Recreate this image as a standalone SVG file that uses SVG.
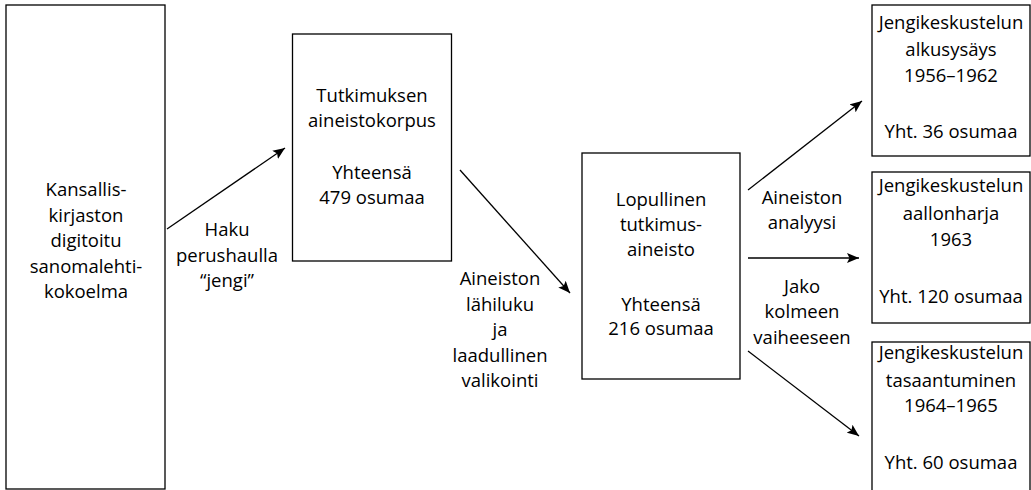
<svg xmlns="http://www.w3.org/2000/svg" width="1031" height="490" viewBox="0 0 1031 490">
<defs>
<marker id="ah" viewBox="0 0 12 10" refX="12" refY="5" markerWidth="12" markerHeight="10" markerUnits="userSpaceOnUse" orient="auto"><path d="M0,0 L12,5 L0,10 L2.5,5 z" fill="#000"/></marker>
<style>
.box{fill:#fff;stroke:#000;stroke-width:1.3}
text{font-family:"Open Sans","Liberation Sans",sans-serif;font-size:18.5px;fill:#000;text-anchor:middle}
.c{stroke:#000;stroke-width:1.3;fill:none;marker-end:url(#ah)}
</style>
</defs>
<rect width="1031" height="490" fill="#fff"/>
<g id="connectors">
<line class="c" x1="167" y1="229" x2="285" y2="148"/>
<line class="c" x1="460" y1="170" x2="570" y2="293"/>
<line class="c" x1="748" y1="190" x2="862" y2="101"/>
<line class="c" x1="748" y1="258" x2="859" y2="258"/>
<line class="c" x1="748" y1="351" x2="859" y2="436"/>
</g>
<g id="labels">
<text x="227" y="236">Haku</text>
<text x="227" y="262">perushaulla</text>
<text x="227" y="287">“jengi”</text>
<text x="500" y="285">Aineiston</text>
<text x="500" y="311">lähiluku</text>
<text x="500" y="336">ja</text>
<text x="500" y="362">laadullinen</text>
<text x="500" y="387">valikointi</text>
<text x="802" y="204">Aineiston</text>
<text x="802" y="229">analyysi</text>
<text x="802" y="293">Jako</text>
<text x="802" y="318">kolmeen</text>
<text x="802" y="344">vaiheeseen</text>
</g>
<g id="n1">
<rect class="box" x="6" y="5" width="159" height="484"/>
<text x="86" y="196">Kansallis-</text>
<text x="86" y="222">kirjaston</text>
<text x="86" y="247">digitoitu</text>
<text x="86" y="273">sanomalehti-</text>
<text x="86" y="298">kokoelma</text>
</g>
<g id="n2">
<rect class="box" x="292.5" y="34" width="159" height="227"/>
<text x="372" y="102">Tutkimuksen</text>
<text x="372" y="127">aineistokorpus</text>
<text x="372" y="179">Yhteensä</text>
<text x="372" y="204">479 osumaa</text>
</g>
<g id="n3">
<rect class="box" x="582" y="153" width="158" height="226"/>
<text x="661" y="206">Lopullinen</text>
<text x="661" y="231">tutkimus-</text>
<text x="661" y="256">aineisto</text>
<text x="661" y="311">Yhteensä</text>
<text x="661" y="335">216 osumaa</text>
</g>
<g id="n4">
<rect class="box" x="872" y="5" width="158" height="151"/>
<text x="951" y="29">Jengikeskustelun</text>
<text x="951" y="56">alkusysäys</text>
<text x="951" y="82">1956–1962</text>
<text x="951" y="138">Yht. 36 osumaa</text>
</g>
<g id="n5">
<rect class="box" x="872" y="172" width="158" height="151"/>
<text x="951" y="192">Jengikeskustelun</text>
<text x="951" y="220">aallonharja</text>
<text x="951" y="246">1963</text>
<text x="951" y="303">Yht. 120 osumaa</text>
</g>
<g id="n6">
<rect class="box" x="872" y="342" width="158" height="160"/>
<text x="951" y="359">Jengikeskustelun</text>
<text x="951" y="387">tasaantuminen</text>
<text x="951" y="412">1964–1965</text>
<text x="951" y="469">Yht. 60 osumaa</text>
</g>
</svg>
